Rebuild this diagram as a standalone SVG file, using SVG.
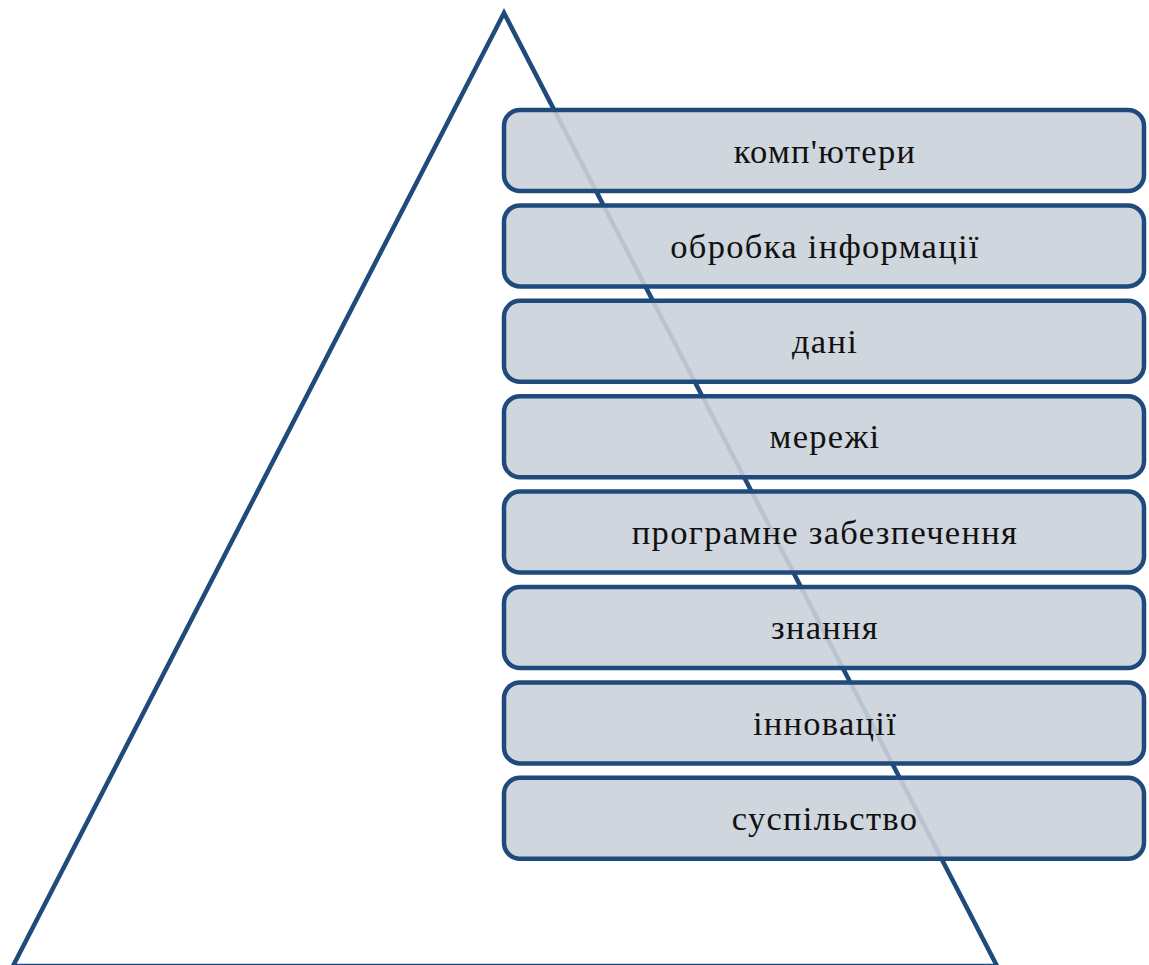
<svg xmlns="http://www.w3.org/2000/svg" width="1149" height="965" viewBox="0 0 1149 965">
<style>
.box{fill:#cbd1da;fill-opacity:0.9;stroke:#1f4a7c;stroke-width:4.5}
.lbl{font-family:"Liberation Serif","Times New Roman",serif;font-size:34.5px;letter-spacing:1.3px;fill:#111;text-anchor:middle}
</style>
<rect width="1149" height="965" fill="#ffffff"/>
<g id="pyramid">
<polygon points="504,13 13,966 997,966" fill="none" stroke="#1f4a7c" stroke-width="4.5" stroke-linejoin="miter"/>
</g>
<g id="connectors"></g>
<g id="n1"><rect class="box" x="504" y="110" width="640" height="81" rx="16"/><text class="lbl" x="825" y="162.5">комп'ютери</text></g>
<g id="n2"><rect class="box" x="504" y="205.4" width="640" height="81" rx="16"/><text class="lbl" x="825" y="257.6">обробка інформації</text></g>
<g id="n3"><rect class="box" x="504" y="300.8" width="640" height="81" rx="16"/><text class="lbl" x="825" y="353">дані</text></g>
<g id="n4"><rect class="box" x="504" y="396.2" width="640" height="81" rx="16"/><text class="lbl" x="825" y="448.4">мережі</text></g>
<g id="n5"><rect class="box" x="504" y="491.6" width="640" height="81" rx="16"/><text class="lbl" x="825" y="543.8">програмне забезпечення</text></g>
<g id="n6"><rect class="box" x="504" y="587" width="640" height="81" rx="16"/><text class="lbl" x="825" y="639.2">знання</text></g>
<g id="n7"><rect class="box" x="504" y="682.4" width="640" height="81" rx="16"/><text class="lbl" x="825" y="734.6">інновації</text></g>
<g id="n8"><rect class="box" x="504" y="777.8" width="640" height="81" rx="16"/><text class="lbl" x="825" y="830">суспільство</text></g>
</svg>
